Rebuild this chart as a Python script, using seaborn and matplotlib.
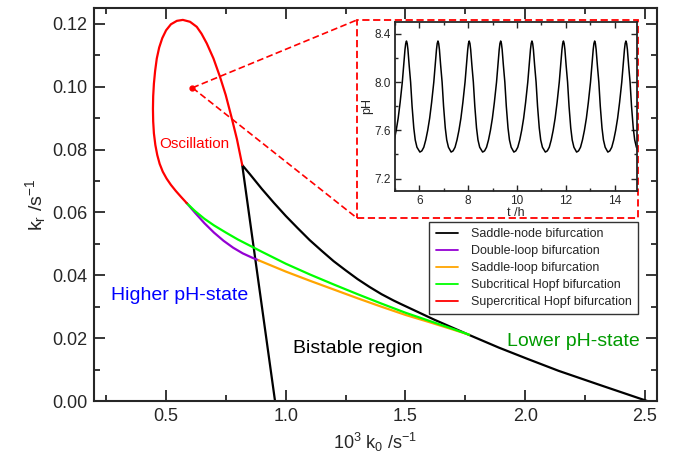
import matplotlib
matplotlib.use("Agg")
import matplotlib.pyplot as plt
import seaborn as sns
from matplotlib.patches import Rectangle
from matplotlib.ticker import MultipleLocator, FormatStrFormatter

# ---- bifurcation curves in the (k0, kr) plane ----
# saddle-node: left branch up to the cusp, then the right branch down to kr = 0
sn_k0 = [0.955, 0.818, 0.85, 0.90, 0.95, 1.00, 1.05, 1.10, 1.15, 1.20, 1.25, 1.30, 1.35,
         1.40, 1.45, 1.48, 1.62, 1.77, 1.89, 2.01, 2.14, 2.32, 2.51]
sn_kr = [0.0, 0.0751, 0.0722, 0.0675, 0.0631, 0.0589, 0.0550, 0.0512, 0.0478, 0.0445, 0.0416, 0.0388, 0.0363,
         0.0340, 0.0320, 0.0309, 0.0259, 0.0209, 0.0170, 0.0134, 0.0096, 0.0049, 0.0]

# double-loop
dl_k0 = [0.586, 0.62, 0.66, 0.70, 0.74, 0.78, 0.82, 0.86, 0.886]
dl_kr = [0.0630, 0.0600, 0.0566, 0.0536, 0.0510, 0.0488, 0.0470, 0.0456, 0.0448]

# saddle-loop
sl_k0 = [0.886, 1.0, 1.1, 1.2, 1.3, 1.4, 1.5, 1.6, 1.7, 1.766]
sl_kr = [0.0448, 0.0412, 0.0383, 0.0355, 0.0327, 0.0300, 0.0274, 0.0251, 0.0227, 0.0211]

# subcritical Hopf
sub_k0 = [0.586, 0.62, 0.66, 0.70, 0.75, 0.80, 0.90, 1.0, 1.1, 1.2, 1.3, 1.4, 1.5, 1.6, 1.7, 1.766]
sub_kr = [0.0630, 0.0605, 0.0580, 0.0559, 0.0536, 0.0514, 0.0475, 0.0437, 0.0403, 0.0371,
          0.0340, 0.0310, 0.0281, 0.0255, 0.0229, 0.0211]

# supercritical Hopf (closed loop bounding the oscillation region)
sup_k0 = [0.586, 0.562, 0.540, 0.520, 0.502, 0.486, 0.473, 0.463, 0.455, 0.449, 0.446, 0.445,
          0.446, 0.449, 0.454, 0.461, 0.471, 0.484, 0.500, 0.520, 0.545, 0.570, 0.600, 0.628,
          0.648, 0.670, 0.698, 0.725, 0.749, 0.773, 0.796, 0.818]
sup_kr = [0.0630, 0.0650, 0.0669, 0.0688, 0.0708, 0.0730, 0.0755, 0.0783, 0.0815, 0.0852, 0.0890, 0.0930,
          0.0970, 0.1010, 0.1050, 0.1090, 0.1125, 0.1155, 0.1180, 0.1199, 0.1210, 0.1213, 0.1207, 0.1191,
          0.1169, 0.1138, 0.1090, 0.1032, 0.0974, 0.0904, 0.0833, 0.0751]

# parameter point of the time series shown in the inset
sample_k0 = 0.61
sample_kr = 0.0997

# ---- pH time series at the sample point ----
peak_times = [5.47, 6.76, 8.04, 9.33, 10.61, 11.90, 13.18, 14.46]
cycle_phase = [-0.74, -0.66, -0.58, -0.50, -0.42, -0.34, -0.26, -0.17, -0.11, -0.06, -0.03, 0.0,
               0.03, 0.06, 0.11, 0.17, 0.23, 0.30, 0.36, 0.43]
cycle_ph = [7.42, 7.43, 7.46, 7.52, 7.60, 7.70, 7.83, 8.00, 8.15, 8.27, 8.32, 8.34,
            8.32, 8.27, 8.14, 8.00, 7.80, 7.62, 7.52, 7.46]
last_trough = (0.54, 7.42)

t_series = [p + ph for p in peak_times for ph in cycle_phase] + [peak_times[-1] + last_trough[0]]
ph_series = [v for _ in peak_times for v in cycle_ph] + [last_trough[1]]

# ---- styling ----
sns.set_style("ticks")
plt.rcParams["font.family"] = ["Liberation Sans", "DejaVu Sans"]
plt.rcParams["mathtext.fontset"] = "custom"
plt.rcParams["mathtext.rm"] = "Liberation Sans"
plt.rcParams["mathtext.it"] = "Liberation Sans:italic"
plt.rcParams["axes.linewidth"] = 1.5

fig = plt.figure(figsize=(6.76, 4.57), dpi=100)
ax = fig.add_axes([0.1395, 0.1225, 0.8321, 0.8594])

lw = 1.6
sns.lineplot(x=sn_k0, y=sn_kr, sort=False, estimator=None, color="black", lw=lw,
             label="Saddle-node bifurcation", ax=ax)
sns.lineplot(x=dl_k0, y=dl_kr, sort=False, estimator=None, color="#9400d3", lw=lw,
             label="Double-loop bifurcation", ax=ax)
sns.lineplot(x=sl_k0, y=sl_kr, sort=False, estimator=None, color="#ffa500", lw=lw,
             label="Saddle-loop bifurcation", ax=ax)
sns.lineplot(x=sub_k0, y=sub_kr, sort=False, estimator=None, color="#00ff00", lw=lw,
             label="Subcritical Hopf bifurcation", ax=ax)
sns.lineplot(x=sup_k0, y=sup_kr, sort=False, estimator=None, color="#ff0000", lw=lw,
             label="Supercritical Hopf bifurcation", ax=ax)
for line in ax.get_lines():
    line.set_solid_joinstyle("round")

ax.set_xlim(0.2, 2.55)
ax.set_ylim(0.0, 0.125)
ax.xaxis.set_major_locator(MultipleLocator(0.5))
ax.xaxis.set_minor_locator(MultipleLocator(0.25))
ax.yaxis.set_major_locator(MultipleLocator(0.02))
ax.yaxis.set_minor_locator(MultipleLocator(0.01))
ax.xaxis.set_major_formatter(FormatStrFormatter("%.1f"))
ax.yaxis.set_major_formatter(FormatStrFormatter("%.2f"))
ax.tick_params(which="both", direction="in", top=True, right=True, width=1.3, labelsize=13, pad=5)
ax.tick_params(which="major", length=8)
ax.tick_params(which="minor", length=4)
for s in ax.spines.values():
    s.set_visible(True)
    s.set_linewidth(1.5)

ax.set_xlabel(r"10$^3$ k$_0$ /s$^{-1}$", fontsize=13, labelpad=4)
ax.set_ylabel(r"k$_\mathrm{r}$ /s$^{-1}$", fontsize=14)
ax.yaxis.set_label_coords(-0.082, 0.5)

# region annotations
ax.text(0.617, 0.0817, "Oscillation", color="red", fontsize=11, ha="center", va="center")
ax.text(0.555, 0.0337, "Higher pH-state", color="#0000ff", fontsize=14, ha="center", va="center")
ax.text(1.302, 0.0168, "Bistable region", color="black", fontsize=14, ha="center", va="center")
ax.text(2.202, 0.0189, "Lower pH-state", color="#009a00", fontsize=14, ha="center", va="center")

# zoom indicator: marked point, dashed frame and connecting lines
box_x0, box_x1 = 1.298, 2.472
box_y0, box_y1 = 0.0582, 0.1213
ax.plot([sample_k0], [sample_kr], marker="o", ms=3.5, color="red", zorder=6)
ax.add_patch(Rectangle((box_x0, box_y0), box_x1 - box_x0, box_y1 - box_y0, fill=False,
                       edgecolor="red", lw=1.3, ls=(0, (4, 2)), zorder=5))
ax.plot([sample_k0, box_x0], [sample_kr, box_y1], color="red", lw=1.2, ls=(0, (4, 2)), zorder=5)
ax.plot([sample_k0, box_x0], [sample_kr, box_y0], color="red", lw=1.2, ls=(0, (4, 2)), zorder=5)

leg = ax.legend(loc="upper right", bbox_to_anchor=(0.966, 0.4565), borderaxespad=0,
                fontsize=9, frameon=True, fancybox=False, edgecolor="black",
                handlelength=1.8, handletextpad=1.0, labelspacing=0.40, borderpad=0.5)
leg.get_frame().set_linewidth(1.0)
for line in leg.get_lines():
    line.set_linewidth(1.3)

# ---- inset: pH oscillation ----
ins = fig.add_axes([0.5843, 0.5827, 0.3575, 0.3698])
sns.lineplot(x=t_series, y=ph_series, sort=False, estimator=None, color="black", lw=1.1, ax=ins)
ins.set_xlim(5.0, 14.9)
ins.set_ylim(7.1, 8.5)
ins.xaxis.set_major_locator(MultipleLocator(2))
ins.xaxis.set_minor_locator(MultipleLocator(1))
ins.yaxis.set_major_locator(MultipleLocator(0.4))
ins.yaxis.set_minor_locator(MultipleLocator(0.2))
ins.yaxis.set_major_formatter(FormatStrFormatter("%.1f"))
ins.tick_params(which="both", direction="in", top=True, right=True, width=1.0, labelsize=8.5, pad=3)
ins.tick_params(which="major", length=4)
ins.tick_params(which="minor", length=2)
for s in ins.spines.values():
    s.set_visible(True)
    s.set_linewidth(1.3)
ins.set_xlabel("t /h", fontsize=9, labelpad=0)
ins.set_ylabel("pH", fontsize=9, labelpad=1)

fig.savefig("out.png", dpi=100)
